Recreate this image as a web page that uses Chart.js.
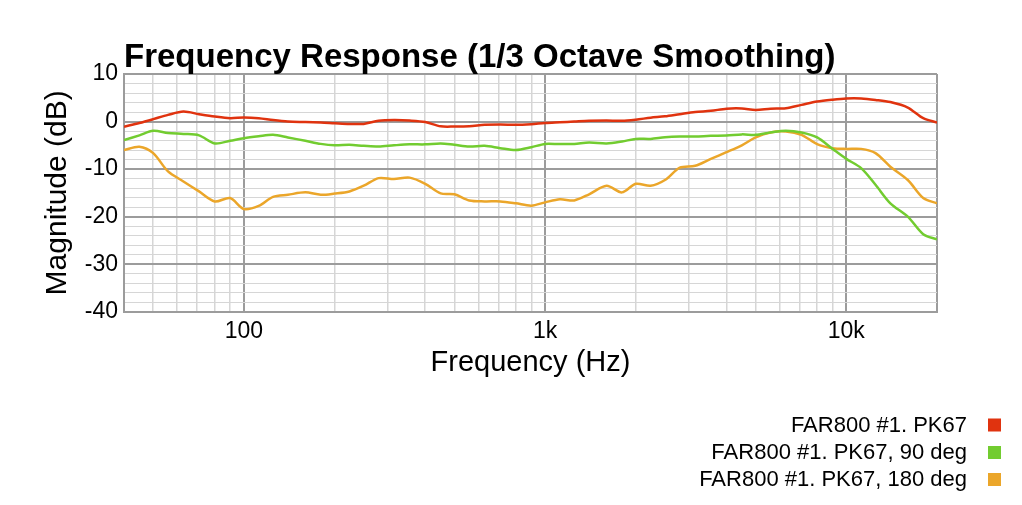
<!DOCTYPE html>
<html>
<head>
<meta charset="utf-8">
<title>Frequency Response</title>
<script src="https://cdn.jsdelivr.net/npm/chart.js@4.4.1/dist/chart.umd.min.js"></script>
<style>
  html, body { margin: 0; padding: 0; background: #fff; }
  #wrap { width: 1022px; height: 505px; position: relative; }
</style>
</head>
<body>
<div id="wrap"><canvas id="chart" width="1022" height="505"></canvas></div>
<script>
// frequencies (Hz) the curves were read at
const freqs = [40, 45, 50, 56, 63, 71, 80, 90, 100, 112, 125, 140, 160, 180, 200, 224, 250, 280, 315, 355,
  400, 450, 500, 560, 630, 710, 800, 900, 1000, 1120, 1250, 1400, 1600, 1800, 2000, 2240, 2500, 2800, 3150, 3550,
  4000, 4500, 5000, 5600, 6300, 7100, 8000, 9000, 10000, 11200, 12500, 14000, 16000, 18000, 20000];

// magnitude in dB
const onAxis = [-1.1, -0.3, 0.5, 1.4, 2.1, 1.55, 1.05, 0.7, 0.85, 0.7, 0.3, 0.0, -0.1, -0.2, -0.35, -0.5, -0.5, 0.15, 0.3, 0.2,
  -0.1, -1.0, -1.05, -1.0, -0.7, -0.6, -0.7, -0.55, -0.3, -0.15, 0.0, 0.15, 0.2, 0.15, 0.4, 0.8, 1.1, 1.55, 2.0, 2.25,
  2.7, 2.75, 2.45, 2.7, 2.8, 3.5, 4.2, 4.6, 4.85, 4.85, 4.55, 4.1, 2.95, 0.7, -0.2];
const deg90 = [-3.9, -2.9, -1.95, -2.4, -2.6, -2.9, -4.6, -4.05, -3.5, -3.1, -2.8, -3.35, -4.05, -4.7, -5.0, -4.9, -5.1, -5.25, -5.0, -4.8,
  -4.8, -4.6, -4.9, -5.25, -5.1, -5.6, -6.0, -5.4, -4.7, -4.75, -4.7, -4.4, -4.6, -4.2, -3.65, -3.65, -3.3, -3.15, -3.15, -3.0,
  -2.95, -2.7, -2.8, -2.3, -1.95, -2.3, -3.35, -5.75, -7.85, -9.8, -13.3, -17.2, -20.0, -23.7, -24.8];
const deg180 = [-6.0, -5.3, -6.65, -10.5, -12.6, -14.7, -16.8, -16.1, -18.4, -17.75, -15.85, -15.4, -14.9, -15.4, -15.15, -14.7, -13.5, -11.9, -12.1, -11.8,
  -13.1, -15.1, -15.3, -16.6, -16.8, -16.8, -17.2, -17.7, -17.0, -16.35, -16.6, -15.3, -13.5, -14.9, -13.1, -13.5, -12.3, -9.7, -9.3, -7.85,
  -6.45, -5.0, -3.35, -2.3, -2.1, -2.8, -4.75, -5.6, -5.75, -5.75, -6.65, -9.5, -12.3, -16.1, -17.2];

const seriesLabels = ["FAR800 #1. PK67", "FAR800 #1. PK67, 90 deg", "FAR800 #1. PK67, 180 deg"];
const seriesColors = ["#e0330f", "#72cc30", "#eba62a"];

// axis ticks
const xGridValues = [40, 50, 60, 70, 80, 90, 100, 200, 300, 400, 500, 600, 700, 800, 900,
  1000, 2000, 3000, 4000, 5000, 6000, 7000, 8000, 9000, 10000, 20000];
const xLabelValues = [100, 1000, 10000];
const xLabelText = ["100", "1k", "10k"];
const yMin = -40, yMax = 10;

const FONT = "'Liberation Sans', Arial, Helvetica, sans-serif";
const MAJOR = "#9c9c9c", MINOR = "#d6d6d6";
const xMajor = [40, 100, 1000, 10000, 20000];

function pts(vals) {
  return freqs.map((f, i) => ({ x: f, y: vals[i] }));
}

const datasets = [onAxis, deg90, deg180].map((vals, i) => ({
  label: seriesLabels[i],
  data: pts(vals),
  borderColor: seriesColors[i],
  backgroundColor: seriesColors[i],
  borderWidth: 2.5,
  pointRadius: 0,
  tension: 0.3,
  fill: false
}));

// Title + right-aligned legend with the swatch on the right
const decor = {
  id: "decor",
  afterDraw(chart) {
    const ctx = chart.ctx;
    const area = chart.chartArea;
    ctx.save();
    ctx.fillStyle = "#000";
    ctx.font = "bold 33px " + FONT;
    ctx.textAlign = "left";
    ctx.textBaseline = "alphabetic";
    ctx.fillText("Frequency Response (1/3 Octave Smoothing)", area.left, 67);

    ctx.font = "22px " + FONT;
    ctx.textAlign = "right";
    ctx.textBaseline = "middle";
    const rowY = [424.5, 452, 479];
    chart.data.datasets.forEach((ds, i) => {
      ctx.fillStyle = "#000";
      ctx.fillText(ds.label, 967, rowY[i] + 1);
      ctx.fillStyle = ds.borderColor;
      ctx.fillRect(988, rowY[i] - 6, 13, 13);
    });
    ctx.restore();
  }
};

new Chart(document.getElementById("chart"), {
  type: "line",
  data: { datasets },
  plugins: [decor],
  options: {
    responsive: false,
    animation: false,
    layout: { padding: { top: 74, right: 85, left: 0, bottom: 124.5 } },
    plugins: { legend: { display: false }, tooltip: { enabled: false } },
    scales: {
      x: {
        type: "logarithmic",
        min: 40,
        max: 20000,
        afterBuildTicks: (scale) => { scale.ticks = xGridValues.map(v => ({ value: v })); },
        afterFit: (scale) => { scale.height = 68.8; },
        ticks: {
          autoSkip: false,
          maxRotation: 0,
          padding: 6,
          color: "#000",
          font: { family: FONT, size: 23 },
          callback: (v) => {
            const k = xLabelValues.indexOf(v);
            return k >= 0 ? xLabelText[k] : "";
          }
        },
        grid: {
          drawTicks: false,
          color: (c) => (xMajor.includes(c.tick.value) ? MAJOR : MINOR),
          lineWidth: (c) => (xMajor.includes(c.tick.value) ? 2 : 1.5)
        },
        border: { color: MAJOR, width: 2 },
        title: {
          display: true,
          text: "Frequency (Hz)",
          color: "#000",
          font: { family: FONT, size: 29 },
          padding: { top: 0, bottom: 0 }
        }
      },
      y: {
        min: yMin,
        max: yMax,
        afterFit: (scale) => { scale.width = 124; },
        ticks: {
          stepSize: 2,
          autoSkip: false,
          padding: 6,
          color: "#000",
          font: { family: FONT, size: 23 },
          callback: (v) => (v % 10 === 0 ? String(v) : "")
        },
        grid: {
          drawTicks: false,
          color: (c) => (c.tick.value % 10 === 0 ? MAJOR : MINOR),
          lineWidth: (c) => (c.tick.value % 10 === 0 ? 2 : 1)
        },
        border: { color: MAJOR, width: 2 },
        title: {
          display: true,
          text: "Magnitude (dB)",
          color: "#000",
          font: { family: FONT, size: 30 },
          padding: { top: 40, bottom: 0 }
        }
      }
    }
  }
});
</script>
</body>
</html>
